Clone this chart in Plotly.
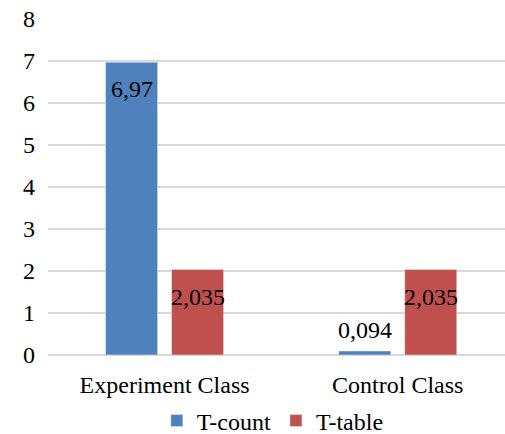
import plotly.graph_objects as go

categories = ["Experiment Class", "Control Class"]
t_count = [6.97, 0.094]
t_table = [2.035, 2.035]
count_labels = ["6,97", "0,094"]
table_labels = ["2,035", "2,035"]
y_ticks = [0, 1, 2, 3, 4, 5, 6, 7, 8]

FONT = "Times New Roman, Liberation Serif, serif"
BLUE = "#4F81BD"
RED = "#C0504D"
BAR_W = 0.223

fig = go.Figure()
fig.add_trace(go.Bar(
    name="T-count", x=categories, y=t_count,
    marker=dict(color=BLUE), width=BAR_W, offset=-0.253,
))
fig.add_trace(go.Bar(
    name="T-table", x=categories, y=t_table,
    marker=dict(color=RED), width=BAR_W, offset=0.03,
))

# value labels: inside the top of tall bars, just above very short ones
def add_labels(values, labels, xshift):
    for cat, v, lab in zip(categories, values, labels):
        inside = v > 1
        fig.add_annotation(
            x=cat, y=v, text=lab, showarrow=False,
            xshift=xshift, yshift=-27 if inside else 21,
            yanchor="middle", font=dict(family=FONT, size=24, color="black"),
        )

add_labels(t_count, count_labels, -33)
add_labels(t_table, table_labels, 33)

fig.update_layout(
    width=505, height=434,
    margin=dict(l=48, r=0, t=19, b=79),
    paper_bgcolor="white", plot_bgcolor="white",
    font=dict(family=FONT, size=24, color="black"),
    showlegend=True,
    legend=dict(orientation="h", x=0.492, xanchor="center",
                yref="container", y=0.03, yanchor="middle",
                font=dict(size=24, family=FONT), itemwidth=30,
                traceorder="normal"),
    xaxis=dict(type="category", range=[-0.5, 1.46], showgrid=False,
               showline=False, ticks="outside", ticklen=8, tickcolor="rgba(0,0,0,0)",
               tickfont=dict(size=24, family=FONT)),
    yaxis=dict(range=[0, 8], tickvals=y_ticks, showgrid=True, gridcolor="#D9D9D9",
               gridwidth=1.5, zeroline=True, zerolinecolor="#D9D9D9", zerolinewidth=1.5,
               showline=False, ticks="", ticklabelstandoff=12,
               tickfont=dict(size=24, family=FONT)),
)

fig.write_html("out.html")
